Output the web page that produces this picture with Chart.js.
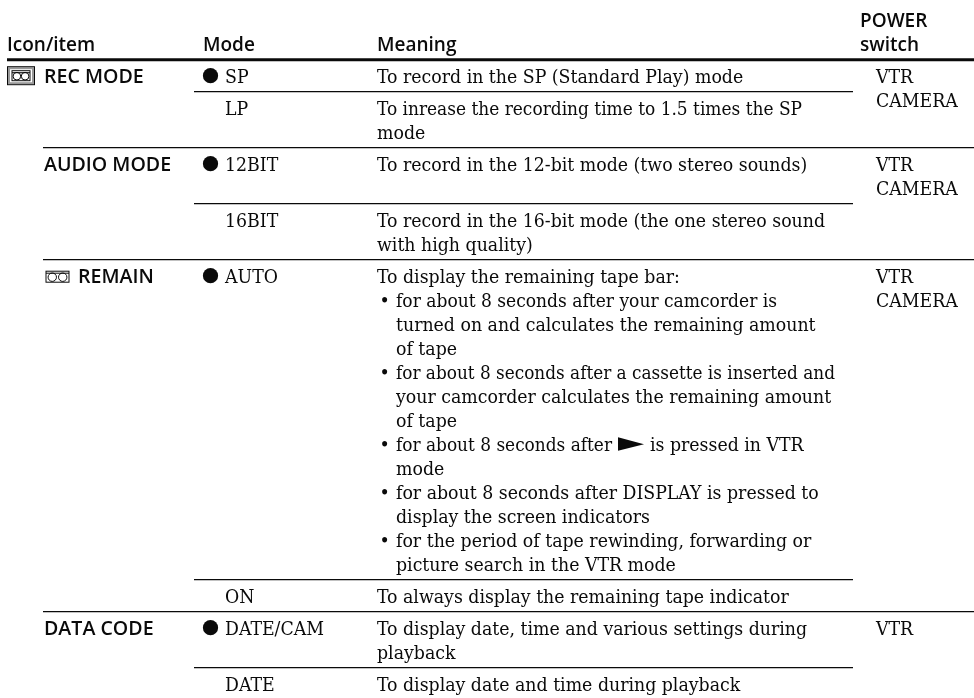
<!DOCTYPE html>
<html>
<head>
<meta charset="utf-8">
<title>Menu settings</title>
<script src="https://cdn.jsdelivr.net/npm/chart.js@4/dist/chart.umd.min.js"></script>
<style>
  html, body { margin: 0; padding: 0; background: #fff; }
  canvas { display: block; }
</style>
</head>
<body>
<canvas id="tableChart" width="974" height="698"></canvas>
<script>
// Table contents
const columnTitles = [["Icon/item"], ["Mode"], ["Meaning"], ["POWER", "switch"]];
const itemNames = ["REC MODE", "", "AUDIO MODE", "", "REMAIN", "", "DATA CODE", ""];
const itemIcons = ["framed", "", "", "", "plain", "", "", ""];
const modeNames = ["SP", "LP", "12BIT", "16BIT", "AUTO", "ON", "DATE/CAM", "DATE"];
const defaultMode = [1, 0, 1, 0, 1, 0, 1, 0];
const rowLines = [1, 2, 2, 2, 13, 1, 2, 1];
const sectionStart = [1, 0, 1, 0, 1, 0, 1, 0];
const meaningLines = [
  ["To record in the SP (Standard Play) mode"],
  ["To inrease the recording time to 1.5 times the SP", "mode"],
  ["To record in the 12-bit mode (two stereo sounds)"],
  ["To record in the 16-bit mode (the one stereo sound", "with high quality)"],
  ["To display the remaining tape bar:",
   "• for about 8 seconds after your camcorder is",
   "  turned on and calculates the remaining amount",
   "  of tape",
   "• for about 8 seconds after a cassette is inserted and",
   "  your camcorder calculates the remaining amount",
   "  of tape",
   "• for about 8 seconds after ► is pressed in VTR",
   "  mode",
   "• for about 8 seconds after DISPLAY is pressed to",
   "  display the screen indicators",
   "• for the period of tape rewinding, forwarding or",
   "  picture search in the VTR mode"],
  ["To always display the remaining tape indicator"],
  ["To display date, time and various settings during", "playback"],
  ["To display date and time during playback"]
];
const powerSwitch = [["VTR", "CAMERA"], [], ["VTR", "CAMERA"], [], ["VTR", "CAMERA"], [], ["VTR"], []];

// Layout of the table on the x axis (page px) and the y axis (text lines)
const colX = { title: 7, item: 44, bullet: 210.5, mode: 225, meaning: 377, listBullet: 379.5, listText: 396, arrow: 618, arrowEnd: 644, afterArrow: 650, powerTitle: 860, power: 876, sectionRule: 43, rowRule: 194, rowRuleEnd: 853, end: 974 };
const rowGap = 1 / 3;
const linePitch = 24;
const topRule = 59.7;
// a few lines run a little narrower than the stand-in font
const lineFit = { "To inrease the recording time to 1.5 times the SP": 425, "for about 8 seconds after a cassette is inserted and": 439, "for about 8 seconds after your camcorder is": 381, "for about 8 seconds after": 216 };

const serif = '"DejaVu Serif Condensed", "DejaVu Serif", serif';
const sans = '"Open Sans", "Noto Sans", sans-serif';
const ink = "#0a0a0a";

// Row top edges in text lines, counted from the header rule
const rowTop = [];
rowLines.reduce((top, n, i) => { rowTop[i] = top; return top + n + rowGap; }, 0);

const ruleLines = [];
rowTop.forEach((top, i) => {
  if (i === 0) return;
  ruleLines.push({
    label: "rule" + i,
    type: "line",
    data: [{ x: sectionStart[i] ? colX.sectionRule : colX.rowRule, y: top },
           { x: sectionStart[i] ? colX.end : colX.rowRuleEnd, y: top }],
    borderColor: ink, borderWidth: 1.3, pointRadius: 0
  });
});
ruleLines.push({
  label: "header rule",
  type: "line",
  data: [{ x: colX.title, y: 0 }, { x: colX.end, y: 0 }],
  borderColor: ink, borderWidth: 3, pointRadius: 0
});

const bulletPoints = [];
defaultMode.forEach((on, i) => {
  if (on) bulletPoints.push({ x: colX.bullet, y: rowTop[i] + rowGap / 2 + 0.5 });
});

function drawTape(ctx, x, y, w, h, r) {
  ctx.strokeRect(x - w / 2, y - h / 2, w, h);
  ctx.beginPath();
  ctx.arc(x - w / 4.4, y + 0.5, r, 0, Math.PI * 2);
  ctx.moveTo(x + w / 4.4 + r, y + 0.5);
  ctx.arc(x + w / 4.4, y + 0.5, r, 0, Math.PI * 2);
  ctx.moveTo(x - w / 2, y - h / 2 + 2);
  ctx.lineTo(x + w / 2, y - h / 2 + 2);
  ctx.stroke();
}

const tableText = {
  id: "tableText",
  afterDatasetsDraw(chart) {
    const { ctx, scales: { x, y } } = chart;
    const put = (text, px, py) => ctx.fillText(text, x.getPixelForValue(px), py, lineFit[text]);
    const baseline = (row, line) => y.getPixelForValue(rowTop[row] + rowGap / 2 + line + 0.5) + 7;
    const headFont = '600 19px ' + sans;
    const itemFont = '600 19.6px ' + sans;
    const bodyFont = '19.3px ' + serif;

    ctx.save();
    ctx.fillStyle = ink;
    ctx.strokeStyle = ink;
    ctx.textBaseline = "alphabetic";

    // header
    ctx.font = headFont;
    const headX = [colX.title, colX.bullet - 7.5, colX.meaning, colX.powerTitle];
    columnTitles.forEach((lines, c) => {
      lines.forEach((t, j) => put(t, headX[c], 51 - (lines.length - 1 - j) * linePitch));
    });

    rowLines.forEach((n, r) => {
      const icon = itemIcons[r];
      const itemX = icon === "plain" ? colX.item + 34 : colX.item;
      ctx.font = itemFont;
      if (itemNames[r]) put(itemNames[r], itemX, baseline(r, 0));
      if (icon === "framed") {
        const cx = x.getPixelForValue(colX.title + 14), cy = baseline(r, 0) - 7;
        ctx.lineWidth = 2;
        ctx.strokeStyle = "#999";
        ctx.strokeRect(cx - 12, cy - 7.5, 24, 15);
        ctx.strokeStyle = ink;
        ctx.lineWidth = 1;
        ctx.strokeRect(cx - 13.5, cy - 9, 27, 18);
        drawTape(ctx, cx, cy, 18, 10, 3.8);
      }
      if (icon === "plain") {
        ctx.lineWidth = 1;
        drawTape(ctx, x.getPixelForValue(colX.item + 13.5), baseline(r, 0) - 6, 23, 11, 4.2);
      }
      ctx.font = bodyFont;
      put(modeNames[r], colX.mode, baseline(r, 0));
      meaningLines[r].forEach((t, j) => {
        const by = baseline(r, j);
        if (t.startsWith("• ")) {
          put("•", colX.listBullet, by);
          const parts = t.slice(2).split(" ► ");
          put(parts[0], colX.listText, by);
          if (parts[1]) {
            // the play mark is wider than any font glyph, so it gets its own path
            const ax = x.getPixelForValue(colX.arrow), ex = x.getPixelForValue(colX.arrowEnd);
            ctx.beginPath();
            ctx.moveTo(ax, by - 13.5);
            ctx.lineTo(ex, by - 6.5);
            ctx.lineTo(ax, by);
            ctx.closePath();
            ctx.fill();
            put(parts[1], colX.afterArrow, by);
          }
        } else if (t.startsWith("  ")) {
          put(t.trim(), colX.listText, by);
        } else {
          put(t, colX.meaning, by);
        }
      });
      powerSwitch[r].forEach((t, j) => put(t, colX.power, baseline(r, j)));
    });
    ctx.restore();
  }
};

new Chart(document.getElementById("tableChart").getContext("2d"), {
  type: "scatter",
  data: {
    datasets: [
      ...ruleLines,
      { label: "default mode", data: bulletPoints, backgroundColor: ink, borderColor: ink, pointRadius: 7.6, pointBorderWidth: 0, pointStyle: "circle" }
    ]
  },
  options: {
    responsive: false,
    animation: false,
    layout: { padding: 0, autoPadding: false },
    plugins: { legend: { display: false }, tooltip: { enabled: false } },
    scales: {
      x: { type: "linear", display: false, min: 0, max: 974 },
      y: { type: "linear", display: false, reverse: true, min: -topRule / linePitch, max: (698 - topRule) / linePitch }
    }
  },
  plugins: [tableText]
});
</script>
</body>
</html>
